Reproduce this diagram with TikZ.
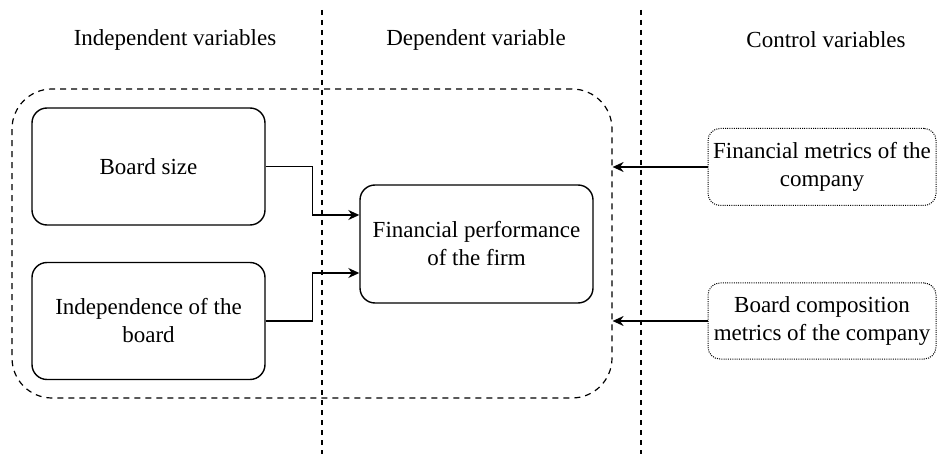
\documentclass[tikz,border=0pt]{standalone}
\usepackage{fontspec}
% serif face without the fi ligature
\newfontfamily\diagfont{Liberation Serif}[Ligatures=CommonOff]
\usetikzlibrary{arrows.meta}
\begin{document}
\begin{tikzpicture}[x=1pt,y=-1pt,
  lbl/.style={font=\diagfont\fontsize{23}{28}\selectfont},
  box/.style={lbl, draw, line width=1.4pt, rounded corners=15pt, align=center,
    inner sep=0pt, minimum width=233pt, minimum height=117pt},
  ctrl/.style={lbl, draw, line width=1pt, dash pattern=on 1pt off 1.2pt,
    rounded corners=12pt, align=center, inner sep=0pt,
    minimum width=228pt, minimum height=77pt},
  divider/.style={draw, line width=1.3pt, dash pattern=on 5pt off 5pt},
  group/.style={draw, line width=1.2pt, dash pattern=on 6pt off 5pt,
    rounded corners=40pt, inner sep=0pt},
  arr/.style={draw, line width=1.4pt, -{Stealth[length=11pt,width=10pt]}}]

\useasboundingbox (0,0) rectangle (937,454);

% column headings
\node[lbl] (hind) at (175,40) {Independent variables};
\node[lbl] (hdep) at (476,40) {Dependent variable};
\node[lbl] (hctl) at (826,40) {Control variables};

% independent variables
\node[box] (bs) at (148.5,166.5) {Board size};
\node[box] (ib) at (148.5,321) {Independence of the\\board};

% dependent variable
\node[box, minimum height=118pt] (fp) at (476.5,244) {Financial performance\\of the firm};

% control variables
\node[ctrl] (fm) at (822,167) {Financial metrics of the\\company};
\node[ctrl, minimum height=76pt] (bc) at (822,321) {Board composition\\metrics of the company};

% dashed group around the model
\node[group, minimum width=600pt, minimum height=309pt] (grp) at (312,243.5) {};

% column dividers
\coordinate (d1top) at (322,10);
\coordinate (d1bot) at (322,454);
\coordinate (d2top) at (641,10);
\coordinate (d2bot) at (641,454);
\draw[divider] (d1top) -- (d1bot);
\draw[divider] (d2top) -- (d2bot);

% connectors
\draw[arr] (bs.east) -- ++(47,0) |- ([yshift=29pt]fp.west);
\draw[arr] (ib.east) -- ++(47,0) |- ([yshift=-29pt]fp.west);
\draw[arr] (fm.west) -- (grp.east |- fm.west);
\draw[arr] (bc.west) -- (grp.east |- bc.west);
\end{tikzpicture}
\end{document}
